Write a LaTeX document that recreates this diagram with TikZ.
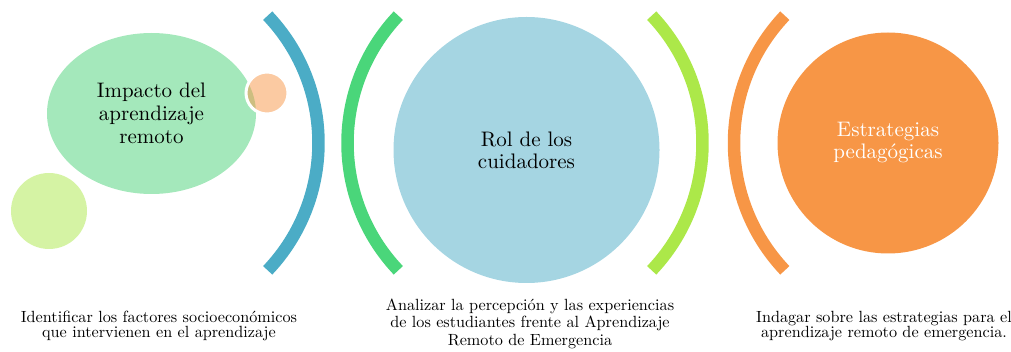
\documentclass[tikz,border=0pt]{standalone}
\usepackage{fontspec}
\setmainfont{lmroman10-regular.otf}
\usetikzlibrary{shapes.geometric}
\definecolor{ellgreen}{HTML}{A4E8BB}
\definecolor{tealarc}{HTML}{4BACC6}
\definecolor{greenarc}{HTML}{4AD67A}
\definecolor{limearc}{HTML}{ACE849}
\definecolor{orangearc}{HTML}{F79646}
\definecolor{paleblue}{HTML}{A5D5E2}
\begin{document}
\begin{tikzpicture}[x=1pt,y=-1pt,
    bubble/.style={circle, inner sep=0pt, align=center, font=\fontsize{21}{22}\selectfont},
    band/.style={line width=12.5pt},
    caption/.style={align=center, font=\fontsize{16.2}{15}\selectfont}
]
\useasboundingbox (0,0) rectangle (1011,352);

\node[ellipse, fill=ellgreen, minimum width=209pt, minimum height=161pt, inner sep=0pt,
    align=center, font=\fontsize{21}{23}\selectfont] (impacto) at (151.5,113.5) {Impacto del\\aprendizaje\\remoto};
\node[bubble, fill=orangearc, fill opacity=0.5, draw=white, draw opacity=1, line width=3pt,
    minimum size=42pt] (dot) at (267,93) {};
\node[bubble, fill=limearc, fill opacity=0.5, minimum size=76pt] (lime) at (49,211) {};

\node[bubble, fill=paleblue, minimum size=266pt] (rol) at (526.5,150) {Rol de los\\cuidadores};
\node[bubble, fill=orangearc, text=white, minimum size=221pt] (estrategias) at (888,143) {Estrategias\\pedagógicas};

\foreach \cx/\a/\col in {133.5/0/tealarc, 532.5/180/greenarc, 517.5/0/limearc, 919/180/orangearc}
    \draw[band, draw=\col] ([shift={({\a-43.5}:185)}]\cx,143) arc[start angle=\a-43.5, end angle=\a+43.5, radius=185];

\node[caption] (cap1) at (159,326) {Identificar los factores socioeconómicos\\que intervienen en el aprendizaje};
\node[caption, font=\fontsize{16.2}{17.5}\selectfont] (cap2) at (530,323.5) {Analizar la percepción y las experiencias\\de los estudiantes frente al Aprendizaje\\Remoto de Emergencia};
\node[caption] (cap3) at (884,326) {Indagar sobre las estrategias para el\\aprendizaje remoto de emergencia.};

\end{tikzpicture}
\end{document}
